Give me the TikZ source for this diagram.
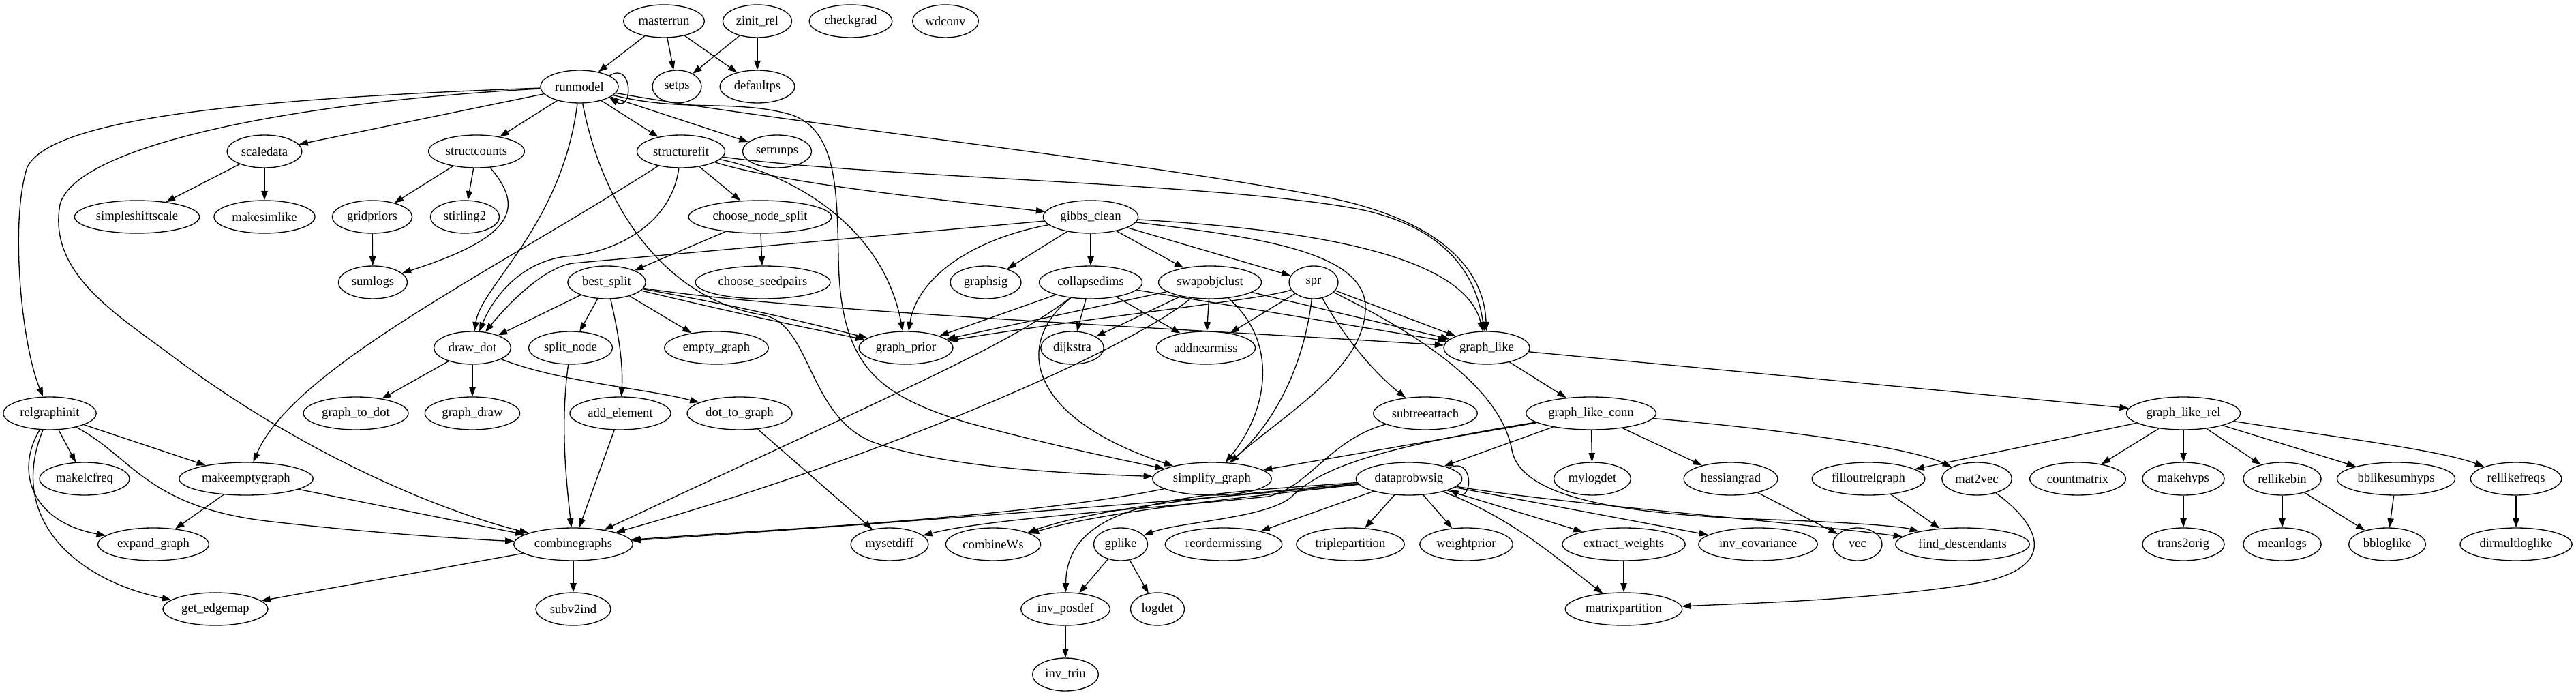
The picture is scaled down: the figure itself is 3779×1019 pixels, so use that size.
\documentclass[tikz,border=0pt]{standalone}
\usepackage{fontspec}
\setmainfont{Liberation Serif}
\usetikzlibrary{shapes.geometric,arrows.meta}

\begin{document}
\begin{tikzpicture}[x=0.75pt,y=-0.75pt,
    fn/.style={ellipse, draw, line width=1pt, minimum width=54pt, minimum height=36pt,
      inner xsep=3.5pt, inner ysep=2pt, font=\fontsize{14}{16}\selectfont},
    call/.style={line width=1pt, -{Triangle[length=10pt,width=7pt]}}]

  \useasboundingbox (0,0) rectangle (3779,1019);

  % rank 0 and 1
  \node[fn] (masterrun) at (974,31) {masterrun};
  \node[fn] (zinit_rel) at (1111,31) {zinit\_rel};
  \node[fn] (checkgrad) at (1248,31) {checkgrad};
  \node[fn] (wdconv) at (1387,31) {wdconv};
  \node[fn] (runmodel) at (850,127) {runmodel};
  \node[fn] (setps) at (993,127) {setps};
  \node[fn] (defaultps) at (1111,127) {defaultps};

  % rank 2 and 3
  \node[fn] (scaledata) at (388,222) {scaledata};
  \node[fn] (structcounts) at (699,222) {structcounts};
  \node[fn] (structurefit) at (999,222) {structurefit};
  \node[fn] (setrunps) at (1140,222) {setrunps};
  \node[fn] (simpleshiftscale) at (201,318) {simpleshiftscale};
  \node[fn] (makesimlike) at (388,318) {makesimlike};
  \node[fn] (gridpriors) at (546,318) {gridpriors};
  \node[fn] (stirling2) at (682,318) {stirling2};
  \node[fn] (choose_node_split) at (1115,318) {choose\_node\_split};
  \node[fn] (gibbs_clean) at (1600,318) {gibbs\_clean};

  % rank 4 and 5
  \node[fn] (sumlogs) at (547,414) {sumlogs};
  \node[fn] (best_split) at (890,414) {best\_split};
  \node[fn] (choose_seedpairs) at (1119,414) {choose\_seedpairs};
  \node[fn] (graphsig) at (1446,414) {graphsig};
  \node[fn] (collapsedims) at (1600,414) {collapsedims};
  \node[fn] (swapobjclust) at (1775,414) {swapobjclust};
  \node[fn] (spr) at (1927,414) {spr};
  \node[fn] (draw_dot) at (693,510) {draw\_dot};
  \node[fn] (split_node) at (837,510) {split\_node};
  \node[fn] (empty_graph) at (1051,510) {empty\_graph};
  \node[fn] (graph_prior) at (1329,510) {graph\_prior};
  \node[fn] (dijkstra) at (1573,510) {dijkstra};
  \node[fn] (addnearmiss) at (1769,510) {addnearmiss};
  \node[fn] (graph_like) at (2181,510) {graph\_like};

  % rank 6 and 7
  \node[fn] (relgraphinit) at (73,606) {relgraphinit};
  \node[fn] (graph_to_dot) at (522,606) {graph\_to\_dot};
  \node[fn] (graph_draw) at (693,606) {graph\_draw};
  \node[fn] (add_element) at (910,606) {add\_element};
  \node[fn] (dot_to_graph) at (1085,606) {dot\_to\_graph};
  \node[fn] (subtreeattach) at (2091,606) {subtreeattach};
  \node[fn] (graph_like_conn) at (2334,606) {graph\_like\_conn};
  \node[fn] (graph_like_rel) at (3203,606) {graph\_like\_rel};
  \node[fn] (makelcfreq) at (124,702) {makelcfreq};
  \node[fn] (makeemptygraph) at (361,702) {makeemptygraph};
  \node[fn] (simplify_graph) at (1778,702) {simplify\_graph};
  \node[fn] (dataprobwsig) at (2067,702) {dataprobwsig};
  \node[fn] (mylogdet) at (2336,702) {mylogdet};
  \node[fn] (hessiangrad) at (2539,702) {hessiangrad};
  \node[fn] (filloutrelgraph) at (2741,702) {filloutrelgraph};
  \node[fn] (mat2vec) at (2900,702) {mat2vec};
  \node[fn] (countmatrix) at (3048,702) {countmatrix};
  \node[fn] (makehyps) at (3203,702) {makehyps};
  \node[fn] (rellikebin) at (3348,702) {rellikebin};
  \node[fn] (bblikesumhyps) at (3515,702) {bblikesumhyps};
  \node[fn] (rellikefreqs) at (3691,702) {rellikefreqs};

  % rank 8 to 10
  \node[fn] (expand_graph) at (225,798) {expand\_graph};
  \node[fn] (combinegraphs) at (841,798) {combinegraphs};
  \node[fn] (mysetdiff) at (1305,798) {mysetdiff};
  \node[fn] (combineWs) at (1457,798) {combineWs};
  \node[fn] (gplike) at (1644,798) {gplike};
  \node[fn] (reordermissing) at (1795,798) {reordermissing};
  \node[fn] (triplepartition) at (1981,798) {triplepartition};
  \node[fn] (weightprior) at (2151,798) {weightprior};
  \node[fn] (extract_weights) at (2382,798) {extract\_weights};
  \node[fn] (inv_covariance) at (2579,798) {inv\_covariance};
  \node[fn] (vec) at (2725,798) {vec};
  \node[fn] (find_descendants) at (2879,798) {find\_descendants};
  \node[fn] (trans2orig) at (3203,798) {trans2orig};
  \node[fn] (meanlogs) at (3348,798) {meanlogs};
  \node[fn] (bbloglike) at (3502,798) {bbloglike};
  \node[fn] (dirmultloglike) at (3691,798) {dirmultloglike};
  \node[fn] (get_edgemap) at (316,893) {get\_edgemap};
  \node[fn] (subv2ind) at (841,893) {subv2ind};
  \node[fn] (inv_posdef) at (1563,893) {inv\_posdef};
  \node[fn] (logdet) at (1698,893) {logdet};
  \node[fn] (matrixpartition) at (2382,893) {matrixpartition};
  \node[fn] (inv_triu) at (1563,989) {inv\_triu};

  % masterrun, zinit_rel
  \draw[call] (masterrun) -- (runmodel);
  \draw[call] (masterrun) -- (setps);
  \draw[call] (masterrun) -- (defaultps);
  \draw[call] (zinit_rel) -- (setps);
  \draw[call] (zinit_rel) -- (defaultps);

  % runmodel
  \draw[call] (runmodel.20) .. controls +(35,-22) and +(35,22) .. (runmodel.-20);
  \draw[call] (runmodel) -- (scaledata);
  \draw[call] (runmodel) -- (structcounts);
  \draw[call] (runmodel) -- (structurefit);
  \draw[call] (runmodel) -- (setrunps);
  \draw[call] (runmodel) .. controls (350,145) and (75,175) .. (40,245)
    .. controls (15,320) and (30,500) .. (relgraphinit);
  \draw[call] (runmodel) .. controls (420,150) and (110,215) .. (88,300)
    .. controls (70,400) and (170,460) .. (250,520)
    .. controls (450,670) and (650,750) .. (combinegraphs);
  \draw[call] (runmodel) .. controls (825,330) and (705,420) .. (draw_dot);
  \draw[call] (runmodel) .. controls (885,310) and (980,440) .. (1120,462)
    .. controls (1190,475) and (1185,610) .. (1280,648)
    .. controls (1400,690) and (1600,695) .. (simplify_graph);
  \draw[call] (runmodel) .. controls (1000,165) and (1080,145) .. (1160,168)
    .. controls (1228,190) and (1228,280) .. (1230,380)
    .. controls (1233,540) and (1290,580) .. (1420,620)
    .. controls (1550,655) and (1650,675) .. (simplify_graph);
  \draw[call] (runmodel) .. controls (1150,180) and (1700,240) .. (1950,290)
    .. controls (2120,325) and (2178,400) .. (graph_like);

  % scaledata, structcounts
  \draw[call] (scaledata) -- (simpleshiftscale);
  \draw[call] (scaledata) -- (makesimlike);
  \draw[call] (structcounts) -- (gridpriors);
  \draw[call] (structcounts) -- (stirling2);
  \draw[call] (structcounts) .. controls (765,300) and (765,345) .. (sumlogs);
  \draw[call] (gridpriors) -- (sumlogs);

  % structurefit
  \draw[call] (structurefit) -- (choose_node_split);
  \draw[call] (structurefit) .. controls (1150,270) and (1400,295) .. (gibbs_clean);
  \draw[call] (structurefit) .. controls (1160,255) and (1295,330) .. (graph_prior);
  \draw[call] (structurefit) .. controls (1300,262) and (1800,268) .. (2000,308)
    .. controls (2120,335) and (2165,400) .. (graph_like);
  \draw[call] (structurefit) .. controls (985,330) and (900,372) .. (830,376)
    .. controls (760,385) and (722,440) .. (draw_dot);
  \draw[call] (structurefit) .. controls (720,400) and (430,540) .. (makeemptygraph);

  % choose_node_split, best_split
  \draw[call] (choose_node_split) -- (best_split);
  \draw[call] (choose_node_split) -- (choose_seedpairs);
  \draw[call] (best_split) -- (draw_dot);
  \draw[call] (best_split) -- (split_node);
  \draw[call] (best_split) .. controls (910,500) and (914,540) .. (add_element);
  \draw[call] (best_split) -- (empty_graph);
  \draw[call] (best_split) to[bend left=2] (graph_prior);
  \draw[call] (best_split) to[bend right=1] (graph_prior);
  \draw[call] (best_split) .. controls (1150,455) and (1700,480) .. (graph_like);

  % gibbs_clean
  \draw[call] (gibbs_clean) -- (graphsig);
  \draw[call] (gibbs_clean) -- (collapsedims);
  \draw[call] (gibbs_clean) -- (swapobjclust);
  \draw[call] (gibbs_clean) -- (spr);
  \draw[call] (gibbs_clean) .. controls (1420,352) and (1345,410) .. (graph_prior);
  \draw[call] (gibbs_clean) -- (840,386) .. controls (800,392) and (750,440) .. (draw_dot);
  \draw[call] (gibbs_clean) .. controls (1950,338) and (2150,380) .. (graph_like);
  \draw[call] (gibbs_clean) .. controls (1850,348) and (2002,370) .. (2003,450)
    .. controls (2004,540) and (1880,610) .. (simplify_graph);

  % collapsedims
  \draw[call] (collapsedims) -- (graph_prior);
  \draw[call] (collapsedims) -- (dijkstra);
  \draw[call] (collapsedims) -- (addnearmiss);
  \draw[call] (collapsedims) -- (graph_like);
  \draw[call] (collapsedims) .. controls (1490,500) and (1500,610) .. (simplify_graph);
  \draw[call] (collapsedims) .. controls (1480,505) and (1350,560) .. (combinegraphs);

  % swapobjclust
  \draw[call] (swapobjclust) -- (addnearmiss);
  \draw[call] (swapobjclust) -- (dijkstra);
  \draw[call] (swapobjclust) -- (graph_prior);
  \draw[call] (swapobjclust) -- (graph_like);
  \draw[call] (swapobjclust) .. controls (1875,500) and (1862,600) .. (simplify_graph);
  \draw[call] (swapobjclust) .. controls (1660,510) and (1300,670) .. (combinegraphs);

  % spr
  \draw[call] (spr) .. controls (1850,440) and (1600,465) .. (graph_prior);
  \draw[call] (spr) -- (addnearmiss);
  \draw[call] (spr) -- (graph_like);
  \draw[call] (spr) .. controls (1915,520) and (1880,610) .. (simplify_graph);
  \draw[call] (spr) .. controls (1975,500) and (2020,550) .. (subtreeattach);
  \draw[call] (spr) .. controls (2060,480) and (2200,560) .. (2218,660)
    .. controls (2232,735) and (2400,755) .. (2600,762)
    .. controls (2720,766) and (2790,772) .. (find_descendants);

  % draw_dot, split_node, add_element, dot_to_graph
  \draw[call] (draw_dot) -- (graph_to_dot);
  \draw[call] (draw_dot) -- (graph_draw);
  \draw[call] (draw_dot) .. controls (820,560) and (950,570) .. (dot_to_graph);
  \draw[call] (split_node) .. controls (822,620) and (830,700) .. (combinegraphs);
  \draw[call] (add_element) -- (combinegraphs);
  \draw[call] (dot_to_graph) -- (mysetdiff);

  % relgraphinit, makeemptygraph, combinegraphs
  \draw[call] (relgraphinit) -- (makelcfreq);
  \draw[call] (relgraphinit) -- (makeemptygraph);
  \draw[call] (relgraphinit) .. controls (195,670) and (215,745) .. (400,765)
    .. controls (550,782) and (680,790) .. (combinegraphs);
  \draw[call] (relgraphinit) .. controls (22,690) and (45,765) .. (expand_graph);
  \draw[call] (relgraphinit) .. controls (10,760) and (110,850) .. (get_edgemap);
  \draw[call] (makeemptygraph) -- (expand_graph);
  \draw[call] (makeemptygraph) -- (combinegraphs);
  \draw[call] (combinegraphs) -- (get_edgemap);
  \draw[call] (combinegraphs) -- (subv2ind);

  % graph_like, graph_like_conn
  \draw[call] (graph_like) -- (graph_like_conn);
  \draw[call] (graph_like) -- (graph_like_rel);
  \draw[call] (graph_like_conn) -- (simplify_graph);
  \draw[call] (graph_like_conn) -- (dataprobwsig);
  \draw[call] (graph_like_conn) -- (mylogdet);
  \draw[call] (graph_like_conn) -- (hessiangrad);
  \draw[call] (graph_like_conn) .. controls (2600,628) and (2800,655) .. (mat2vec);
  \draw[call] (graph_like_conn) .. controls (2000,660) and (1935,690) .. (1895,728)
    .. controls (1860,760) and (1730,765) .. (gplike);

  % simplify_graph, subtreeattach
  \draw[call] (simplify_graph) .. controls (1500,760) and (1100,778) .. (combinegraphs);
  \draw[call] (subtreeattach) .. controls (1950,645) and (1920,715) .. (1860,728)
    .. controls (1700,745) and (1450,760) .. (mysetdiff);

  % dataprobwsig
  \draw[call] (dataprobwsig.15) .. controls +(35,-18) and +(35,18) .. (dataprobwsig.-15);
  \draw[call] (dataprobwsig) .. controls (1800,730) and (1200,775) .. (combinegraphs);
  \draw[call] (dataprobwsig) .. controls (1800,726) and (1620,742) .. (combineWs);
  \draw[call] (dataprobwsig) .. controls (1800,732) and (1620,750) .. (combineWs);
  \draw[call] (dataprobwsig) .. controls (1750,725) and (1565,730) .. (inv_posdef);
  \draw[call] (dataprobwsig) -- (reordermissing);
  \draw[call] (dataprobwsig) -- (triplepartition);
  \draw[call] (dataprobwsig) -- (weightprior);
  \draw[call] (dataprobwsig) -- (extract_weights);
  \draw[call] (dataprobwsig) -- (inv_covariance);
  \draw[call] (dataprobwsig) .. controls (2220,760) and (2285,820) .. (matrixpartition);
  \draw[call] (dataprobwsig) .. controls (2300,740) and (2580,760) .. (find_descendants);

  % lower middle
  \draw[call] (gplike) -- (inv_posdef);
  \draw[call] (gplike) -- (logdet);
  \draw[call] (inv_posdef) -- (inv_triu);
  \draw[call] (extract_weights) -- (matrixpartition);
  \draw[call] (hessiangrad) -- (vec);
  \draw[call] (filloutrelgraph) -- (find_descendants);
  \draw[call] (mat2vec) .. controls (3005,780) and (3010,835) .. (2900,855)
    .. controls (2750,880) and (2550,885) .. (matrixpartition);

  % graph_like_rel
  \draw[call] (graph_like_rel) -- (filloutrelgraph);
  \draw[call] (graph_like_rel) -- (countmatrix);
  \draw[call] (graph_like_rel) -- (makehyps);
  \draw[call] (graph_like_rel) -- (rellikebin);
  \draw[call] (graph_like_rel) -- (bblikesumhyps);
  \draw[call] (graph_like_rel) .. controls (3420,640) and (3580,660) .. (rellikefreqs);
  \draw[call] (makehyps) -- (trans2orig);
  \draw[call] (rellikebin) -- (meanlogs);
  \draw[call] (rellikebin) -- (bbloglike);
  \draw[call] (bblikesumhyps) -- (bbloglike);
  \draw[call] (rellikefreqs) -- (dirmultloglike);
\end{tikzpicture}
\end{document}
